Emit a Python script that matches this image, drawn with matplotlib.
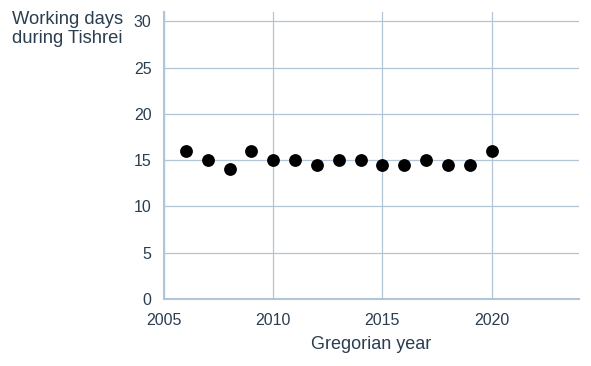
import matplotlib
matplotlib.use("Agg")
import matplotlib.pyplot as plt

years = [2006, 2007, 2008, 2009, 2010, 2011, 2012, 2013, 2014, 2015, 2016, 2017, 2018, 2019, 2020]
working_days = [16, 15, 14, 16, 15, 15, 14.5, 15, 15, 14.5, 14.5, 15, 14.5, 14.5, 16]
xticks = [2005, 2010, 2015, 2020]
yticks = [0, 5, 10, 15, 20, 25, 30]

plt.rcParams['font.family'] = ['Liberation Sans', 'DejaVu Sans']
txt = '#2b3d50'
grid = '#b2c5d6'

fig = plt.figure(figsize=(5.91, 3.66), dpi=100)
ax = fig.add_axes([164/591, 1-299/366, (579-164)/591, (299-12)/366])
ax.scatter(years, working_days, s=85, color='black', zorder=3, linewidths=0)
ax.set_xlim(2005, 2024)
ax.set_ylim(0, 31)
ax.set_xticks(xticks)
ax.set_yticks(yticks)
ax.grid(True, color=grid, linewidth=0.9)
ax.set_axisbelow(True)
for s in ['top', 'right']:
    ax.spines[s].set_visible(False)
for s in ['left', 'bottom']:
    ax.spines[s].set_color(grid)
    ax.spines[s].set_linewidth(1.5)
ax.tick_params(length=0, labelsize=11.5, labelcolor=txt)
ax.tick_params(axis='y', pad=9)
ax.tick_params(axis='x', pad=10)
ax.set_xlabel('Gregorian year', fontsize=13, color=txt, labelpad=6)
fig.text(12/591, 1-11/366, 'Working days\nduring Tishrei', fontsize=13.2, color=txt,
         ha='left', va='top', linespacing=1.18)
fig.savefig('out.png', dpi=100)
